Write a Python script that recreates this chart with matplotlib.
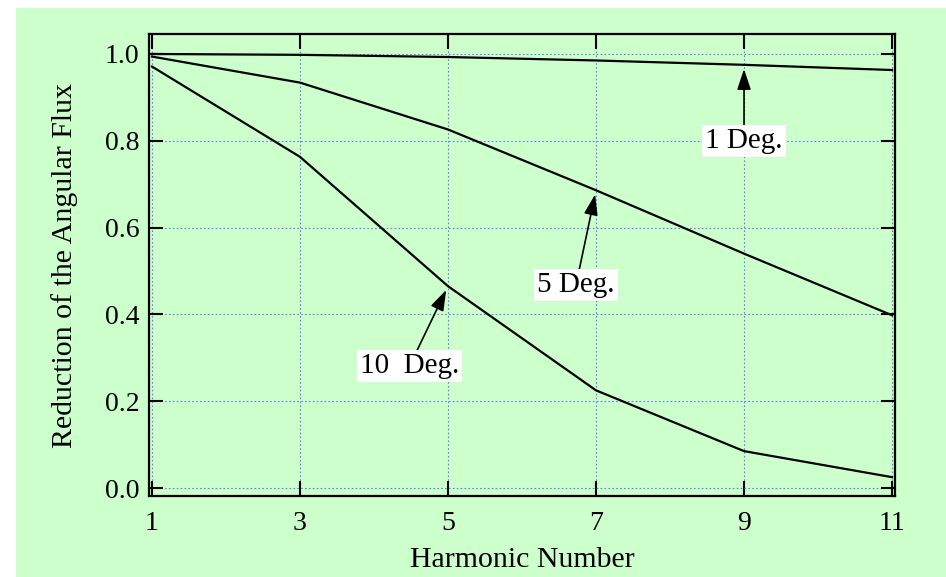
import matplotlib
matplotlib.use("Agg")
import matplotlib.pyplot as plt
from matplotlib.patches import Rectangle

harmonics = [1, 3, 5, 7, 9, 11]
flux_1deg = [1.000, 0.998, 0.993, 0.985, 0.975, 0.963]
flux_5deg = [0.994, 0.934, 0.826, 0.686, 0.540, 0.398]
flux_10deg = [0.971, 0.763, 0.465, 0.225, 0.085, 0.025]
xticks = [1, 3, 5, 7, 9, 11]
yticks = [0.0, 0.2, 0.4, 0.6, 0.8, 1.0]
ytick_labels = ["0.0", "0.2", "0.4", "0.6", "0.8", "1.0"]

plt.rcParams['font.family'] = ['Liberation Serif', 'DejaVu Serif']

green = '#ccffcc'
fig = plt.figure(figsize=(9.46, 5.77), dpi=100, facecolor='white')
fig.patches.append(Rectangle((16/946, 0), 1, (577-8)/577, transform=fig.transFigure,
                             facecolor=green, edgecolor='none', zorder=-10))
ax = fig.add_axes([149/946, 1-496/577, (895-149)/946, (496-34)/577])
ax.set_facecolor(green)

for ys in (flux_1deg, flux_5deg, flux_10deg):
    ax.plot(harmonics, ys, color='black', lw=1.6, zorder=3)

ax.set_xlim(0.96, 11.04)
ax.set_ylim(-0.0184, 1.046)
ax.set_xticks(xticks)
ax.set_xticklabels([str(v) for v in xticks])
ax.set_yticks(yticks)
ax.set_yticklabels(ytick_labels)

ax.grid(True, color='#6080f0', linestyle=(0, (1.5, 2)), lw=0.8, zorder=1)
ax.tick_params(axis='x', direction='in', length=11, width=1.5, top=True, bottom=True,
               labelsize=20, pad=11, colors='black')
ax.tick_params(axis='y', direction='in', length=10, width=1.5, left=True, right=True,
               labelsize=20, pad=7)
for s in ax.spines.values():
    s.set_linewidth(1.6)

ax.set_xlabel("Harmonic Number", fontsize=21.5, labelpad=8)
ax.set_ylabel("Reduction of the Angular Flux", fontsize=21.5, labelpad=19)

bbox = dict(boxstyle='square,pad=0.1', facecolor='white', edgecolor='none')
arrow = dict(arrowstyle='-|>,head_length=0.6,head_width=0.2', color='black', lw=1.2,
             shrinkA=0, shrinkB=3)
ax.annotate("1 Deg.", xy=(9, flux_1deg[4]), xytext=(9.0, 0.80), ha='center', va='center',
            fontsize=21, bbox=bbox, arrowprops=arrow, zorder=5)
ax.annotate("5 Deg.", xy=(7, flux_5deg[3]), xytext=(6.73, 0.468), ha='center', va='center',
            fontsize=21, bbox=bbox, arrowprops=arrow, zorder=5)
ax.annotate("10  Deg.", xy=(5, flux_10deg[2]), xytext=(4.48, 0.281), ha='center', va='center',
            fontsize=21, bbox=bbox, arrowprops=arrow, zorder=5)

fig.savefig("out.png", dpi=100, facecolor='white')
